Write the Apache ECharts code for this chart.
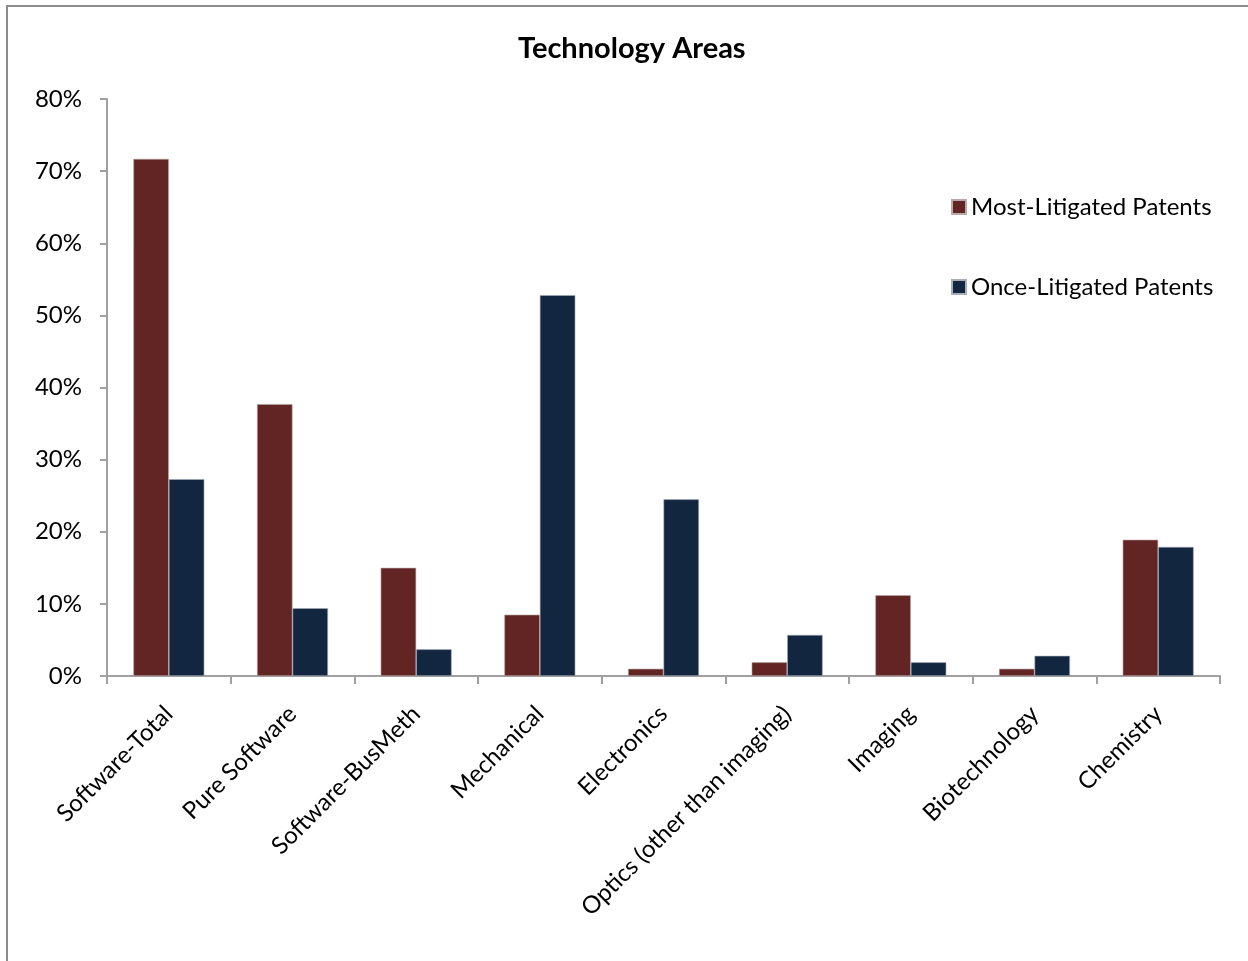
<!DOCTYPE html>
<html>
<head>
<meta charset="utf-8">
<script src="https://cdn.jsdelivr.net/npm/echarts@6/dist/echarts.min.js"></script>
<style>
  html, body { margin: 0; padding: 0; background: #fff; }
  #chart { width: 1248px; height: 961px; }
</style>
</head>
<body>
<div id="chart"></div>
<script>
// Technology areas and share of patents in each (percent)
const categories = [
  'Software-Total', 'Pure Software', 'Software-BusMeth', 'Mechanical',
  'Electronics', 'Optics (other than imaging)', 'Imaging', 'Biotechnology', 'Chemistry'
];
const mostLitigated = [71.7, 37.7, 15.0, 8.5, 1.0, 1.9, 11.2, 1.0, 18.9];
const onceLitigated = [27.3, 9.4, 3.7, 52.8, 24.5, 5.7, 1.9, 2.8, 17.9];
const seriesNames = ['Most-Litigated Patents', 'Once-Litigated Patents'];

const FONT = 'Lato';
const chart = echarts.init(document.getElementById('chart'), null, { renderer: 'canvas' });

chart.setOption({
  animation: false,
  backgroundColor: '#fff',
  textStyle: { fontFamily: FONT, color: '#000' },
  graphic: [{
    type: 'rect',
    shape: { x: 7, y: 6, width: 1300, height: 1000 },
    style: { fill: 'none', stroke: '#8c8c8c', lineWidth: 2 },
    silent: true
  }],
  title: {
    text: 'Technology Areas',
    left: 513,
    top: 29,
    textStyle: { fontFamily: FONT, fontWeight: 'bold', fontSize: 29, color: '#000' }
  },
  legend: {
    orient: 'vertical',
    left: 946,
    top: 190,
    itemWidth: 14,
    itemHeight: 14,
    itemGap: 56,
    icon: 'rect',
    textStyle: { fontFamily: FONT, fontSize: 24, color: '#000', padding: [0, 0, 0, 0] },
    data: seriesNames
  },
  grid: { left: 107, right: 28, top: 99, bottom: 285, containLabel: false },
  xAxis: {
    type: 'category',
    data: categories,
    axisLine: { lineStyle: { color: '#a0a0a0', width: 2 } },
    axisTick: { show: true, length: 8, lineStyle: { color: '#a0a0a0', width: 2 } },
    axisLabel: {
      rotate: 45, fontFamily: FONT, fontSize: 24, color: '#000', margin: 34,
      interval: 0
    }
  },
  yAxis: {
    type: 'value',
    min: 0, max: 80, interval: 10,
    splitLine: { show: false },
    axisLine: { show: true, lineStyle: { color: '#a0a0a0', width: 2 } },
    axisTick: { show: true, length: 7, lineStyle: { color: '#a0a0a0', width: 2 } },
    axisLabel: {
      fontFamily: FONT, fontSize: 24, color: '#000', margin: 25,
      formatter: v => v + '%'
    }
  },
  series: [
    {
      name: seriesNames[0], type: 'bar', data: mostLitigated,
      barGap: '0%', barCategoryGap: '42.6%',
      itemStyle: { color: '#632523', borderColor: '#b9a9a8', borderWidth: 0.6 }
    },
    {
      name: seriesNames[1], type: 'bar', data: onceLitigated,
      barGap: '0%', barCategoryGap: '42.6%',
      itemStyle: { color: '#122640', borderColor: '#a7aeb8', borderWidth: 0.6 }
    }
  ]
});
</script>
</body>
</html>
